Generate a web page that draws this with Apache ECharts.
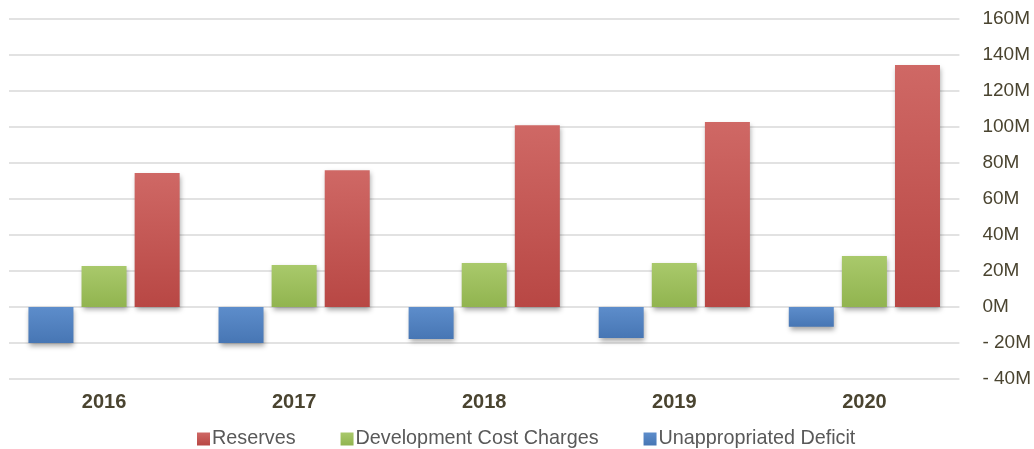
<!DOCTYPE html>
<html><head><meta charset="utf-8">
<script src="https://cdn.jsdelivr.net/npm/echarts@6/dist/echarts.min.js"></script>
<style>html,body{margin:0;padding:0;background:#fff}#c{width:1034px;height:449px}</style>
</head><body><div id="c"></div>
<script>
const categories = ['2016','2017','2018','2019','2020'];
const reserves = [74.5, 76, 101, 102.8, 134.5];
const devCostCharges = [22.8, 23.3, 24.4, 24.4, 28.3];
const unappropriatedDeficit = [-20, -20, -17.8, -17.2, -11];
const yTicks = {min: -40, max: 160, interval: 20};

function grad(top, bottom){
  return new echarts.graphic.LinearGradient(0,0,0,1,[{offset:0,color:top},{offset:1,color:bottom}], false);
}
const shadow = {shadowColor:'rgba(0,0,0,0.35)', shadowBlur:5, shadowOffsetX:1, shadowOffsetY:3};
const chart = echarts.init(document.getElementById('c'));
chart.setOption({
  animation:false,
  grid:{left:9,right:74,top:19,bottom:70},
  legend:{
    data:['Reserves','Development Cost Charges','Unappropriated Deficit'],
    left:197, top:429, padding:0, itemWidth:13, itemHeight:13, itemGap:45, icon:'rect',
    textStyle:{fontFamily:'Liberation Sans, Arial', fontSize:19.8, lineHeight:20, color:'#595959', padding:[0,0,0,-3]}
  },
  xAxis:{
    type:'category', data:categories,
    axisLine:{show:false}, axisTick:{show:false},
    axisLabel:{fontFamily:'Liberation Sans, Arial', fontSize:20, fontWeight:'bold', color:'#4a4430', margin:13}
  },
  yAxis:{
    type:'value', position:'right', min:yTicks.min, max:yTicks.max, interval:yTicks.interval,
    axisLine:{show:false}, axisTick:{show:false},
    splitLine:{lineStyle:{color:'#d9d9d9', width:1.5}},
    axisLabel:{fontFamily:'Liberation Sans, Arial', fontSize:19, color:'#4a4430', margin:23,
      formatter:v => v<0 ? '- ' + Math.abs(v) + 'M' : v + 'M'}
  },
  series:[
    {name:'Unappropriated Deficit', type:'bar', data:unappropriatedDeficit, barWidth:45, barGap:'18%',
     itemStyle:Object.assign({color:grad('#5d8dcb','#4776b4')}, shadow)},
    {name:'Development Cost Charges', type:'bar', data:devCostCharges, barWidth:45, barGap:'18%',
     itemStyle:Object.assign({color:grad('#a9c96b','#91b44f')}, shadow)},
    {name:'Reserves', type:'bar', data:reserves, barWidth:45, barGap:'18%',
     itemStyle:Object.assign({color:grad('#cf6865','#b84744')}, shadow)}
  ]
});
</script></body></html>
